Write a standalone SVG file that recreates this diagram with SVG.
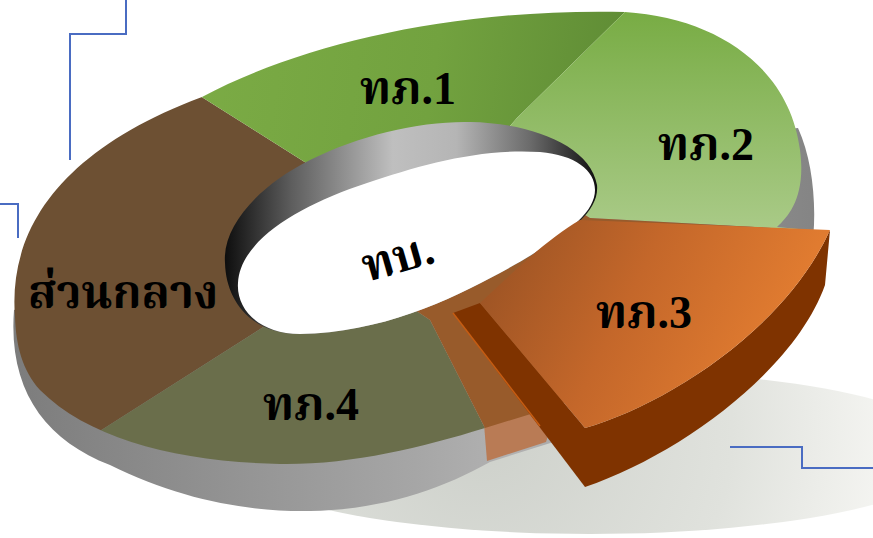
<svg xmlns="http://www.w3.org/2000/svg" width="873" height="538" viewBox="0 0 873 538">
<style>
.lbl{font-family:"Liberation Serif","Noto Serif Thai","Noto Sans Thai Looped","DejaVu Serif",serif;font-weight:bold;font-size:46px;fill:#000;text-anchor:middle}
.lbl2{font-family:"Liberation Serif","Noto Serif Thai","Noto Sans Thai Looped","DejaVu Serif",serif;font-weight:bold;font-size:46px;fill:#000;text-anchor:middle}
.deco{fill:none;stroke:#4a6cc2;stroke-width:2}
</style>
<defs>
<radialGradient id="gShadow" cx="480" cy="430" r="420" gradientUnits="userSpaceOnUse">
<stop offset="0" stop-color="#cdd0ca"/><stop offset="0.6" stop-color="#e0e2dd"/><stop offset="1" stop-color="#f6f6f3"/>
</radialGradient>
<linearGradient id="gSide" x1="10" y1="0" x2="820" y2="0" gradientUnits="userSpaceOnUse">
<stop offset="0" stop-color="#7c7c7c"/><stop offset="0.5" stop-color="#a6a6a6"/><stop offset="0.62" stop-color="#b2b2b2"/><stop offset="0.9" stop-color="#8c8c8c"/><stop offset="1" stop-color="#848484"/>
</linearGradient>
<linearGradient id="gG1" x1="200" y1="60" x2="620" y2="120" gradientUnits="userSpaceOnUse">
<stop offset="0" stop-color="#7bab45"/><stop offset="0.55" stop-color="#72a23f"/><stop offset="1" stop-color="#5f8c35"/>
</linearGradient>
<linearGradient id="gG2" x1="0" y1="12" x2="0" y2="228" gradientUnits="userSpaceOnUse">
<stop offset="0" stop-color="#78ac44"/><stop offset="1" stop-color="#a9ca87"/>
</linearGradient>
<linearGradient id="gOr" x1="500" y1="230" x2="760" y2="360" gradientUnits="userSpaceOnUse">
<stop offset="0" stop-color="#9b5324"/><stop offset="0.5" stop-color="#c4672a"/><stop offset="1" stop-color="#e07b30"/>
</linearGradient>
<linearGradient id="gRim" x1="225" y1="0" x2="598" y2="0" gradientUnits="userSpaceOnUse">
<stop offset="0" stop-color="#0e0e0e"/><stop offset="0.18" stop-color="#5e5e5e"/><stop offset="0.45" stop-color="#bfbfbf"/><stop offset="0.62" stop-color="#b5b5b5"/><stop offset="0.82" stop-color="#6a6a6a"/><stop offset="1" stop-color="#0e0e0e"/>
</linearGradient>
<clipPath id="cTop">
<path d="M15,317 C8,230 60,150 202,97 C300,45 450,8 625,12 C720,18 790,70 800,150 C806,195 790,215 777,227 L830,232 L560,405 L485,428 C420,448 350,465 280,464 C180,462 90,440 40,390 C22,370 16,345 15,317 Z"/>
</clipPath>
</defs>

<g id="decor">
<path class="deco" d="M126,0 V34 H70 V160"/>
<path class="deco" d="M0,204 H18 V238"/>
</g>

<ellipse id="shadow" cx="590" cy="452" rx="370" ry="82" fill="url(#gShadow)"/>

<g id="decor2">
<path class="deco" d="M730,447 H802 V468 H873"/>
</g>

<g id="donut-side">
<path d="M14,310 C8,390 45,440 110,465 C180,500 250,512 310,511 C380,510 440,490 490,462 L560,440 L810,260 C818,220 815,165 798,128 L600,150 Z" fill="url(#gSide)"/>
<polygon points="484,424 487,461 546,442 548,436 530,400" fill="#b97b55"/>
</g>

<g clip-path="url(#cTop)">
<g id="slice-central"><polygon points="330,178 97,31 -80,31 -80,541 -73,541 290,310" fill="#6d5033"/></g>
<g id="slice-t1"><polygon points="330,178 97,31 97,-50 688,-50 517,118 480,160" fill="url(#gG1)"/></g>
<g id="slice-t2"><polygon points="480,160 517,118 688,-50 900,-50 900,235 590,218 560,200" fill="url(#gG2)"/></g>
<g id="slice-t4"><polygon points="290,310 -73,541 547,550 430,320 400,300" fill="#6a6e4b"/></g>
<g id="slice-t3-ghost"><polygon points="400,300 430,320 547,550 900,550 900,235 590,218 560,200" fill="#985b2b"/></g>
</g>

<g id="hole">
<path d="M225,263 C222,225 260,185 310,160 C360,135 420,121 470,122 C530,123 590,145 597,185 C600,215 560,240 500,273 C450,300 380,333 300,334 C250,334 226,300 225,263 Z" fill="url(#gRim)"/>
<path d="M238,283 C240,240 300,205 367,183 C420,165 480,148 540,152 C575,155 595,170 595,190 C595,215 560,240 500,273 C450,300 380,333 300,334 C260,334 236,310 238,283 Z" fill="#fff"/>
<text class="lbl2" x="0" y="0" font-size="42" transform="translate(402,272) rotate(-16)">ทบ.</text>
</g>

<g id="slice-t3">
<polygon points="453,313 480,303 585,428 585,487" fill="#7f3300"/>
<line x1="453" y1="313" x2="540" y2="426" stroke="#c55c12" stroke-width="1.5"/>
<path d="M585,428 C665,405 785,330 830,230 L825,285 C795,370 680,455 585,487 Z" fill="#7f3300"/>
<path d="M480,303 C505,280 545,240 580,220 L830,230 C785,330 665,405 585,428 Z" fill="url(#gOr)"/>
</g>

<g id="labels">
<text class="lbl" x="408" y="104">ทภ.1</text>
<text class="lbl" x="706" y="160">ทภ.2</text>
<text class="lbl" x="644" y="328">ทภ.3</text>
<text class="lbl" x="311" y="420">ทภ.4</text>
<text class="lbl2" x="123" y="308">ส่วนกลาง</text>
</g>
</svg>
